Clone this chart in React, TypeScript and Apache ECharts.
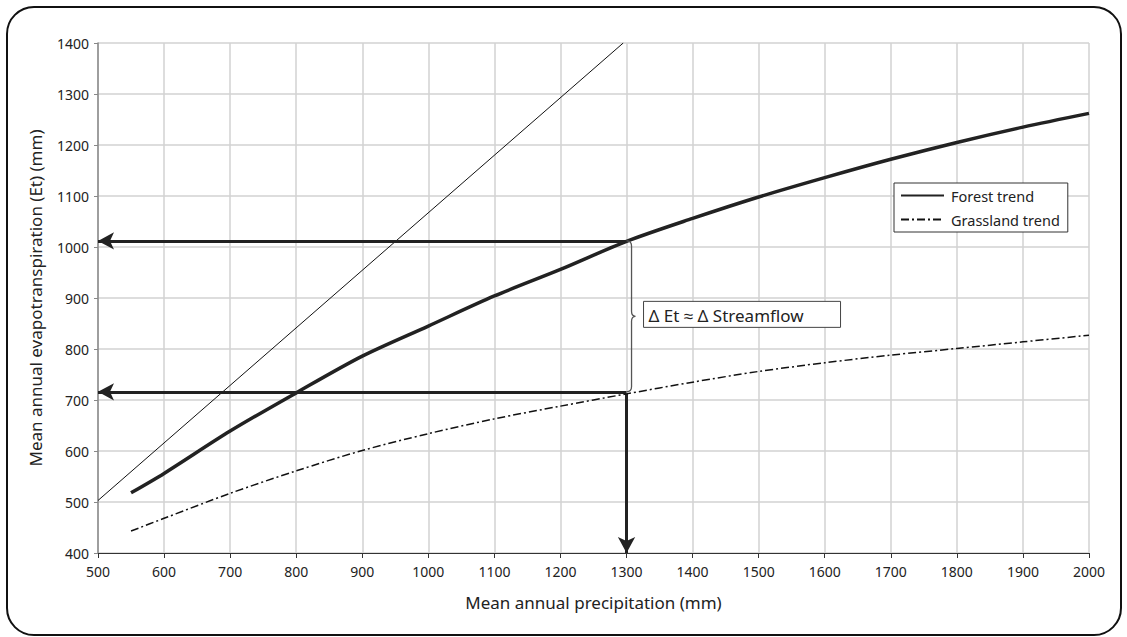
import React, { useEffect, useRef } from "react";
import * as echarts from "echarts";

const precip = [550, 600, 700, 800, 900, 1000, 1100, 1200, 1300, 1400, 1500, 1600, 1700, 1800, 1900, 2000];
const forestEt = [518, 556, 639, 714, 786, 845, 904, 956, 1011, 1056, 1098, 1136, 1172, 1205, 1235, 1262];
const grassEt = [443, 468, 517, 561, 601, 634, 663, 688, 712, 735, 756, 773, 788, 801, 814, 827];
const refLineX = [500, 1295];
const refLineY = [503, 1400];
const refP = 1300;
const forestAtRef = 1012;
const grassAtRef = 716;
const xMin = 500, xMax = 2000, yMin = 400, yMax = 1400, tickStep = 100;
const seriesNames = ["Forest trend", "Grassland trend"];
const annotation = "\u0394 Et \u2248 \u0394 Streamflow";
const xName = "Mean annual precipitation (mm)";
const yName = "Mean annual evapotranspiration (Et) (mm)";

const FONT = "'Noto Sans', sans-serif";

export default function App() {
  const ref = useRef<HTMLDivElement>(null);
  useEffect(() => {
    if (!ref.current) return;
    const chart = echarts.init(ref.current, null, { renderer: "svg" });
    const zip = (xs: number[], ys: number[]) => xs.map((x, i) => [x, ys[i]]);
    const option: any = {
      animation: false,
      backgroundColor: "#fff",
      textStyle: { fontFamily: FONT },
      grid: { left: 98, right: 38, top: 43, bottom: 84, containLabel: false },
      legend: {
        data: seriesNames,
        orient: "vertical",
        left: 894,
        top: 183,
        padding: [5, 8, 5, 6],
        itemGap: 9,
        itemWidth: 43,
        itemHeight: 16,
        backgroundColor: "#fff",
        borderColor: "#333",
        borderWidth: 1,
        itemStyle: { opacity: 0 },
        textStyle: { fontFamily: FONT, fontSize: 14.5, color: "#222", padding: [0, 0, 0, 2] },
        selectedMode: false,
      },
      xAxis: {
        type: "value",
        min: xMin,
        max: xMax,
        interval: tickStep,
        name: xName,
        nameLocation: "middle",
        nameGap: 41,
        nameTextStyle: { fontFamily: FONT, fontSize: 17, color: "#222" },
        axisLine: { show: true, lineStyle: { color: "#333", width: 1.2 } },
        axisTick: { show: true, length: 5, lineStyle: { color: "#333" } },
        axisLabel: { fontFamily: FONT, fontSize: 14, color: "#222", margin: 11, formatter: (v: number) => String(v) },
        splitLine: { show: true, lineStyle: { color: "#d2d2d2", width: 1.5 } },
      },
      yAxis: {
        type: "value",
        min: yMin,
        max: yMax,
        interval: tickStep,
        name: yName,
        nameLocation: "middle",
        nameGap: 54,
        nameTextStyle: { fontFamily: FONT, fontSize: 17, color: "#222" },
        axisLine: { show: true, lineStyle: { color: "#888", width: 1.5 } },
        axisTick: { show: true, length: 4, lineStyle: { color: "#888" } },
        axisLabel: { fontFamily: FONT, fontSize: 14, color: "#222", margin: 9, formatter: (v: number) => String(v) },
        splitLine: { show: true, lineStyle: { color: "#d2d2d2", width: 1.5 } },
      },
      series: [
        {
          name: seriesNames[0],
          type: "line",
          data: zip(precip, forestEt),
          symbol: "none",
          smooth: 0.3,
          lineStyle: { color: "#222", width: 3.5 },
          itemStyle: { color: "#222" },
          z: 5,
        },
        {
          name: seriesNames[1],
          type: "line",
          data: zip(precip, grassEt),
          symbol: "none",
          smooth: 0.3,
          lineStyle: { color: "#111", width: 1.5, type: [8, 3, 2, 3] },
          itemStyle: { color: "#111" },
          z: 5,
        },
        {
          name: "ref",
          type: "line",
          data: zip(refLineX, refLineY),
          symbol: "none",
          lineStyle: { color: "#111", width: 1 },
          z: 4,
          markLine: {
            silent: true,
            symbol: ["none", "arrow"],
            symbolSize: [13, 16],
            label: { show: false },
            lineStyle: { color: "#222", width: 3, type: "solid" },
            data: [
              [{ coord: [refP, forestAtRef] }, { coord: [xMin, forestAtRef] }],
              [{ coord: [refP, grassAtRef] }, { coord: [xMin, grassAtRef] }],
              [{ coord: [refP, grassAtRef - 4] }, { coord: [refP, yMin] }],
            ],
          },
        },
        {
          name: "brace",
          type: "custom",
          data: [[refP, forestAtRef, grassAtRef]],
          z: 6,
          renderItem: (params: any, api: any) => {
            const top = api.coord([api.value(0), api.value(1)]);
            const bot = api.coord([api.value(0), api.value(2)]);
            const x0 = top[0];
            const y1 = top[1];
            const y2 = bot[1];
            const ym = (y1 + y2) / 2;
            const xs = x0 + 5;
            const d = `M ${x0} ${y1} Q ${xs} ${y1} ${xs} ${y1 + 5} L ${xs} ${ym - 5} Q ${xs} ${ym} ${xs + 4} ${ym} Q ${xs} ${ym} ${xs} ${ym + 5} L ${xs} ${y2 - 5} Q ${xs} ${y2} ${x0} ${y2}`;
            return {
              type: "path",
              shape: { pathData: d },
              style: { fill: "none", stroke: "#555", lineWidth: 1.3 },
            };
          },
        },
      ],
    };
    chart.setOption(option);
    const anchor = chart.convertToPixel({ gridIndex: 0 }, [refP, (forestAtRef + grassAtRef) / 2]) as number[];
    const bx = anchor[0] + 17;
    const by = anchor[1] - 15;
    chart.setOption({
      graphic: [
        {
          type: "rect",
          shape: { x: 7, y: 7, width: 1114, height: 628, r: 27 },
          style: { fill: "none", stroke: "#111", lineWidth: 2 },
          z: 100,
          silent: true,
        },
        {
          type: "group",
          x: bx,
          y: by,
          z: 100,
          children: [
            {
              type: "rect",
              shape: { x: 0, y: 0, width: 197, height: 26 },
              style: { fill: "#fff", stroke: "#444", lineWidth: 1 },
            },
            {
              type: "text",
              x: 5,
              y: 14,
              style: {
                text: annotation,
                fontFamily: FONT,
                fontSize: 17,
                fill: "#222",
                verticalAlign: "middle",
                align: "left",
              },
            },
          ],
        },
      ],
    });
    return () => chart.dispose();
  }, []);
  return (
    <div
      ref={ref}
      style={{ position: "absolute", left: 0, top: 0, width: 1127, height: 637 }}
    />
  );
}
